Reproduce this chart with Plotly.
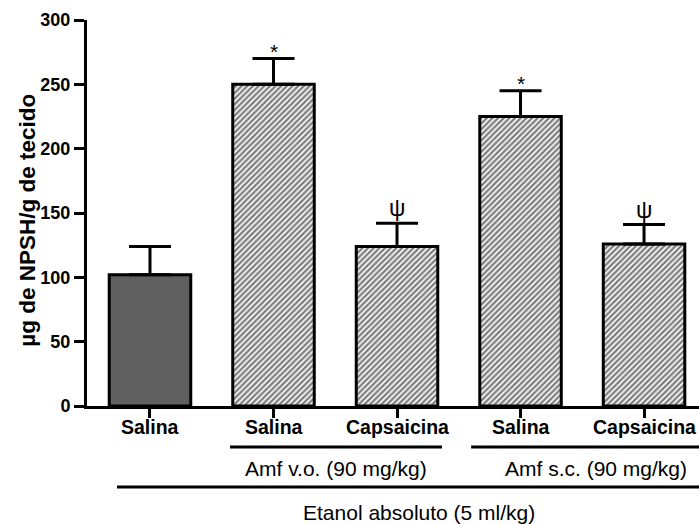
import plotly.graph_objects as go

# Group means and SEM (µg NPSH / g tissue)
labels = ["Salina", "Salina", "Capsaicina", "Salina", "Capsaicina"]
means = [102, 250, 124, 225, 126]
sems = [22, 20, 18, 20, 15]
marks = ["", "*", "ψ", "*", "ψ"]
y_ticks = [0, 50, 100, 150, 200, 250, 300]

# Treatment brackets below the axis: (start, end, text) in category units
sub_groups = [(0.648, 2.364, "Amf v.o. (90 mg/kg)"),
              (2.60, 4.63, "Amf s.c. (90 mg/kg)")]
outer_group = (-0.267, 4.63, "Etanol absoluto (5 ml/kg)")

FONT = "Liberation Sans, Arial, sans-serif"
X_RANGE = [-0.51, 4.445]
pos = list(range(len(labels)))


def to_paper(v):
    return (v - X_RANGE[0]) / (X_RANGE[1] - X_RANGE[0])


fig = go.Figure()

# Control bar (solid grey)
fig.add_trace(go.Bar(
    x=pos[:1], y=means[:1], width=0.66,
    marker=dict(color="#606060", line=dict(color="black", width=3)),
    error_y=dict(type="data", symmetric=False, array=sems[:1], arrayminus=[0],
                 color="black", thickness=3, width=21),
    showlegend=False,
))

# Treated bars (diagonal hatch)
fig.add_trace(go.Bar(
    x=pos[1:], y=means[1:], width=0.66,
    marker=dict(color="white", line=dict(color="black", width=3),
                pattern=dict(shape="/", size=4, solidity=0.6,
                             fgcolor="black", bgcolor="white")),
    error_y=dict(type="data", symmetric=False, array=sems[1:],
                 arrayminus=[0] * (len(pos) - 1),
                 color="black", thickness=3, width=21),
    showlegend=False,
))

annotations = []
# Significance symbols above the error caps
for p, m, s, t in zip(pos, means, sems, marks):
    if not t:
        continue
    star = t == "*"
    annotations.append(dict(
        x=p, y=m + s, xref="x", yref="y", text=t, showarrow=False,
        xanchor="center", yanchor="bottom", yshift=-6 if star else 0,
        font=dict(family=FONT, size=21 if star else 23, color="black"),
    ))

# Category labels under each bar
for p, l in zip(pos, labels):
    annotations.append(dict(
        x=p, y=-0.054, xref="x", yref="paper", text=f"<b>{l}</b>",
        showarrow=False, xanchor="center", yanchor="middle",
        font=dict(family=FONT, size=19.5, color="black"),
    ))

shapes = []
for x0, x1, txt in sub_groups:
    shapes.append(dict(type="line", xref="paper", yref="paper",
                       x0=to_paper(x0), x1=to_paper(x1), y0=-0.106, y1=-0.106,
                       line=dict(color="black", width=3)))
    annotations.append(dict(x=to_paper((x0 + x1) / 2), y=-0.163, xref="paper",
                            yref="paper", text=txt, showarrow=False,
                            xanchor="center", yanchor="middle",
                            font=dict(family=FONT, size=21, color="black")))

x0, x1, txt = outer_group
shapes.append(dict(type="line", xref="paper", yref="paper",
                   x0=to_paper(x0), x1=to_paper(x1), y0=-0.210, y1=-0.210,
                   line=dict(color="black", width=3)))
annotations.append(dict(x=to_paper((x0 + x1) / 2), y=-0.275, xref="paper",
                        yref="paper", text=txt, showarrow=False,
                        xanchor="center", yanchor="middle",
                        font=dict(family=FONT, size=21, color="black")))

# Y-axis title
annotations.append(dict(x=-0.0964, y=0.48, xref="paper", yref="paper",
                        text="<b>µg de NPSH/g de tecido</b>", textangle=-90,
                        showarrow=False, xanchor="center", yanchor="middle",
                        font=dict(family=FONT, size=22.5, color="black")))

fig.update_layout(
    width=699, height=524,
    margin=dict(l=87, r=0, t=20, b=118),
    paper_bgcolor="white", plot_bgcolor="white",
    shapes=shapes, annotations=annotations,
    font=dict(family=FONT, color="black"),
)

fig.update_xaxes(
    range=X_RANGE, tickvals=pos, showticklabels=False,
    showline=True, linecolor="black", linewidth=3,
    ticks="outside", ticklen=9, tickwidth=3, tickcolor="black",
    showgrid=False, zeroline=False, fixedrange=True,
)
fig.update_yaxes(
    range=[0, 300], tickvals=y_ticks,
    showline=True, linecolor="black", linewidth=3,
    ticks="outside", ticklen=10, tickwidth=3, tickcolor="black",
    tickfont=dict(family=FONT, size=18, color="black", weight="bold"),
    showgrid=False, zeroline=False, fixedrange=True,
)

fig.write_html("out.html")
